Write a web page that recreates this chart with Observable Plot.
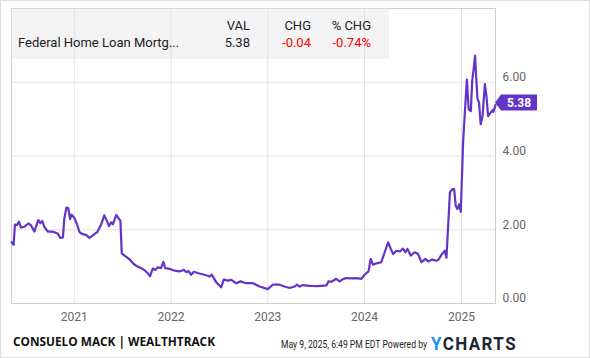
<!DOCTYPE html>
<html>
<head>
<meta charset="utf-8">
<script src="https://cdn.jsdelivr.net/npm/d3@7"></script>
<script src="https://cdn.jsdelivr.net/npm/@observablehq/plot@0.6"></script>
<style>
  html, body { margin: 0; padding: 0; background: #fff; }
  #wrap { position: relative; width: 590px; height: 358px; font-family: Roboto, "Noto Sans", sans-serif; overflow: hidden; }
  #border { position: absolute; left: 0; top: 0; width: 590px; height: 358px; box-sizing: border-box; border: 1px solid #ddd; pointer-events: none; }
  #hdr { position: absolute; left: 11px; top: 8px; width: 378px; height: 51px; background: rgba(225,225,225,0.4); }
  .t { position: absolute; font-size: 13px; color: #222; white-space: nowrap; line-height: 1; }
  .red { color: #f00; }
  .fit { position: absolute; white-space: nowrap; line-height: 1; transform-origin: 0 50%; }
  #brand { left: 13px; top: 336px; font-family: "Open Sans", Roboto, sans-serif; font-weight: 700; font-size: 12.5px; color: #111; }
  #stamp { left: 281px; top: 339px; font-family: Roboto, sans-serif; font-size: 11.5px; color: #222; }
  #logo { left: 431px; top: 335px; font-family: Roboto, sans-serif; font-weight: 700; font-size: 18px; letter-spacing: 1.5px; color: #1b2733; }
  #logo span { color: #1e8fe8; font-weight: 700; }
</style>
</head>
<body>
<div id="wrap">
  <div id="chart"></div>
  <div id="hdr"></div>
  <div class="t" style="left:150px;width:100px;top:19px;text-align:right">VAL</div>
  <div class="t" style="left:211px;width:100px;top:19px;text-align:right">CHG</div>
  <div class="t" style="left:271px;width:100px;top:19px;text-align:right">% CHG</div>
  <div class="t" style="left:18px;top:36px">Federal Home Loan Mortg...</div>
  <div class="t" style="left:150px;width:100px;top:36px;text-align:right">5.38</div>
  <div class="t red" style="left:211px;width:100px;top:36px;text-align:right">-0.04</div>
  <div class="t red" style="left:271px;width:100px;top:36px;text-align:right">-0.74%</div>
  <div id="brand" class="fit" data-w="202">CONSUELO MACK | WEALTHTRACK</div>
  <div id="stamp" class="fit" data-w="146">May 9, 2025, 6:49 PM EDT Powered by</div>
  <div id="logo" class="fit" data-w="86"><span>Y</span>CHARTS</div>
  <div id="border"></div>
</div>
<script>
const dates = [
"2020-05-09","2020-05-17","2020-05-22","2020-05-30","2020-06-06","2020-06-14","2020-06-26","2020-07-11","2020-07-21","2020-08-03",
"2020-08-18","2020-08-26","2020-09-02","2020-09-10","2020-09-23","2020-10-11","2020-10-30","2020-11-09","2020-11-19","2020-11-24",
"2020-12-02","2020-12-09","2020-12-16","2020-12-22","2021-01-01","2021-01-11","2021-01-21","2021-02-02","2021-02-14","2021-02-27",
"2021-03-18","2021-03-30","2021-04-12","2021-04-24","2021-05-05","2021-05-12","2021-05-20","2021-05-27","2021-06-08","2021-06-16",
"2021-06-24","2021-06-29","2021-07-11","2021-07-28","2021-08-13","2021-08-28","2021-09-10","2021-09-25","2021-10-05","2021-10-14",
"2021-10-24","2021-11-02","2021-11-12","2021-11-24","2021-12-03","2021-12-10","2021-12-26","2022-01-14","2022-02-02","2022-02-18",
"2022-02-28","2022-03-08","2022-03-18","2022-03-28","2022-04-14","2022-05-07","2022-05-26","2022-06-04","2022-06-20","2022-07-09",
"2022-07-19","2022-08-03","2022-08-16","2022-09-04","2022-09-20","2022-10-12","2022-11-06","2022-12-01","2023-01-01","2023-01-20",
"2023-02-14","2023-03-05","2023-03-24","2023-04-12","2023-04-21","2023-05-01","2023-05-14","2023-06-08","2023-07-09","2023-08-10",
"2023-08-18","2023-08-29","2023-09-16","2023-09-29","2023-10-12","2023-10-24","2023-11-12","2023-12-01","2023-12-20","2024-01-01",
"2024-01-16","2024-01-24","2024-02-02","2024-02-15","2024-03-04","2024-03-17","2024-03-30","2024-04-09","2024-04-18","2024-04-30",
"2024-05-13","2024-05-25","2024-06-03","2024-06-11","2024-06-23","2024-07-08","2024-07-21","2024-08-03","2024-08-18","2024-08-28",
"2024-09-12","2024-09-28","2024-10-05","2024-10-17","2024-10-30","2024-11-05","2024-11-18","2024-11-27","2024-12-04","2024-12-10",
"2024-12-16","2024-12-23","2024-12-29","2025-01-07","2025-01-13","2025-01-21","2025-01-28","2025-02-05","2025-02-10","2025-02-16",
"2025-02-21","2025-02-26","2025-03-02","2025-03-08","2025-03-14","2025-03-21","2025-03-30","2025-04-05","2025-04-11","2025-04-20",
"2025-04-27","2025-05-01","2025-05-06","2025-05-09"
];
const values = [
1.66,1.59,2.14,2.13,2.22,2.06,2.08,2.17,2.13,1.95,
2.26,2.18,2.24,2.08,1.95,1.95,1.90,1.78,1.79,2.29,
2.60,2.59,2.29,2.41,2.32,2.15,1.93,1.88,1.86,1.78,
1.88,1.95,2.14,2.39,2.22,2.10,2.20,2.15,2.40,2.32,
2.24,1.36,1.29,1.20,1.07,1.00,0.96,0.89,0.82,0.74,
0.95,0.91,0.98,0.96,1.13,0.96,0.94,0.89,0.87,0.91,
0.85,0.88,0.78,0.86,0.82,0.78,0.73,0.78,0.58,0.44,
0.65,0.62,0.64,0.55,0.60,0.55,0.55,0.46,0.39,0.51,
0.51,0.46,0.42,0.46,0.51,0.46,0.50,0.48,0.47,0.49,
0.60,0.59,0.67,0.60,0.66,0.69,0.68,0.69,0.67,0.78,
0.87,1.21,1.05,1.09,1.12,1.39,1.66,1.48,1.34,1.43,
1.41,1.49,1.39,1.48,1.30,1.39,1.34,1.12,1.21,1.14,
1.19,1.16,1.18,1.32,1.43,1.24,3.01,3.10,3.10,2.65,
2.56,2.69,2.49,4.41,5.13,6.07,5.26,5.22,6.03,6.39,
6.72,6.03,5.56,5.44,4.86,5.08,5.95,5.62,5.08,5.17,
5.24,5.20,5.32,5.38
];
const yTicks = [0, 2, 4, 6];
const xDomain = ["2020-05-09", "2025-05-09"];
const yDomain = [0, 8];
const lastLabel = "5.38";

const data = dates.map((d, i) => ({date: new Date(d + "T00:00:00Z"), value: values[i]}));
const last = data[data.length - 1];
const purple = "#6434c8";

function tag(index, scales) {
  const x = scales.x(last.date), y = scales.y(last.value) - 2;
  const g = document.createElementNS("http://www.w3.org/2000/svg", "g");
  const p = document.createElementNS("http://www.w3.org/2000/svg", "path");
  const h = 8, w = 42, tip = 6;
  p.setAttribute("d", `M${x},${y}L${x+tip},${y-h}L${x+w},${y-h}L${x+w},${y+h}L${x+tip},${y+h}Z`);
  p.setAttribute("fill", purple);
  g.appendChild(p);
  const t = document.createElementNS("http://www.w3.org/2000/svg", "text");
  t.setAttribute("x", x + tip + (w - tip) / 2);
  t.setAttribute("y", y);
  t.setAttribute("dy", "0.36em");
  t.setAttribute("text-anchor", "middle");
  t.setAttribute("fill", "#fff");
  t.setAttribute("font-weight", "700");
  t.setAttribute("font-size", "12");
  t.textContent = lastLabel;
  g.appendChild(t);
  return g;
}

const chart = Plot.plot({
  width: 590,
  height: 358,
  marginLeft: 11,
  marginRight: 95,
  marginTop: 8,
  marginBottom: 55,
  style: {fontFamily: "Roboto, sans-serif", fontSize: "12px", color: "#666", background: "#fff"},
  x: {type: "utc", domain: xDomain.map(d => new Date(d + "T00:00:00Z")), label: null},
  y: {domain: yDomain, label: null},
  marks: [
    Plot.gridX({ticks: d3.utcYear.every(1), stroke: "#e2e2e2", strokeOpacity: 1}),
    Plot.gridY(yTicks, {stroke: "#e2e2e2", strokeOpacity: 1}),
    Plot.frame({stroke: "#cfcfcf"}),
    Plot.axisX({ticks: d3.utcYear.every(1), tickFormat: d3.utcFormat("%Y"), tickSize: 0, tickPadding: 9, fill: "#666", fontSize: 12, label: null}),
    Plot.axisY(yTicks, {anchor: "right", tickFormat: d => d.toFixed(2), tickSize: 0, tickPadding: 7, dy: -5, fill: "#666", fontSize: 12, label: null}),
    Plot.line(data, {x: "date", y: "value", stroke: purple, strokeWidth: 2.2, curve: "linear", strokeLinejoin: "round"}),
    tag
  ]
});
document.getElementById("chart").appendChild(chart);

document.querySelectorAll(".fit").forEach(el => {
  const target = +el.dataset.w;
  const w = el.getBoundingClientRect().width;
  if (w > 0) el.style.transform = `scaleX(${target / w})`;
});
</script>
</body>
</html>
